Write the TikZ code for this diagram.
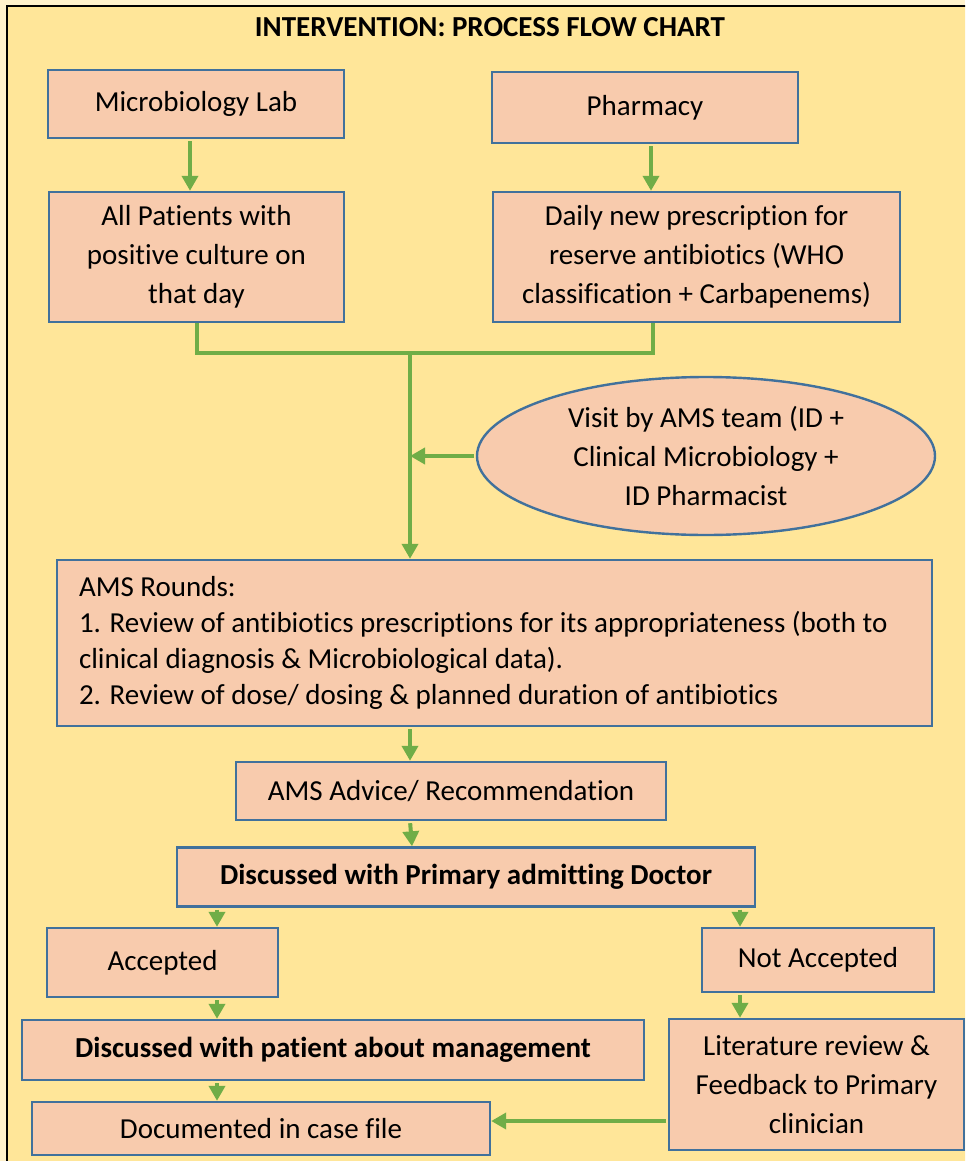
\documentclass[tikz,border=0pt]{standalone}
\usepackage{fontspec}
\setmainfont{Carlito}[Ligatures=NoCommon]
\usetikzlibrary{arrows.meta,positioning,calc,shapes.geometric}
\definecolor{AmsBlue}{HTML}{41719C}
\definecolor{AmsFill}{HTML}{F8CBAD}
\definecolor{AmsGreen}{HTML}{70AD47}
\definecolor{AmsYellow}{HTML}{FFE699}
\definecolor{AmsCream}{HTML}{FFF2CC}

\begin{document}
\begin{tikzpicture}[
  x=0.5pt,y=-0.5pt,
  font=\fontsize{14.5}{19.5}\selectfont,
  procbox/.style={draw=AmsBlue,line width=1.2pt,fill=AmsFill,inner sep=0pt,align=center},
  flow/.style={line width=2pt,draw=AmsGreen},
  arr/.style={flow,-{Triangle[length=7.5pt,width=8pt]},shorten <=1pt}
]
\useasboundingbox (0,0) rectangle (965,1161);
\fill[AmsCream] (0,0) rectangle (965,1161);
\clip (0,0) rectangle (965,1161);
\draw[line width=1.3pt,fill=AmsYellow] (7,6) rectangle (990,1190);

\node[font=\fontsize{14.5}{19.5}\selectfont\bfseries] (title) at (490,27) {INTERVENTION: PROCESS FLOW CHART};

% sources
\node[procbox,minimum width=148pt,minimum height=34pt] (micro) at (196,104) {Microbiology Lab};
\node[procbox,minimum width=153pt,minimum height=35.5pt] (pharm) at (645,107.5) {Pharmacy};
\node[procbox,minimum width=147.5pt,minimum height=65pt] (allpat) at (196.5,257)
  {All Patients with\\positive culture on\\that day};
\node[procbox,minimum width=203.5pt,minimum height=65pt] (daily) at (696.5,257)
  {Daily new prescription for\\reserve antibiotics (WHO\\classification + Carbapenems)};
\node[procbox,ellipse,minimum width=229pt,minimum height=79pt] (visit) at (706,456)
  {Visit by AMS team (ID +\\Clinical Microbiology +\\ID Pharmacist};

% rounds and advice
\node[procbox,align=flush left,text width=415.5pt,inner xsep=11pt,minimum height=83pt,
  font=\fontsize{14.5}{18}\selectfont] (rounds) at (494.5,643)
  {AMS Rounds:\\1. Review of antibiotics prescriptions for its appropriateness (both to\\
   clinical diagnosis \& Microbiological data).\\2. Review of dose/ dosing \& planned duration of antibiotics};
\node[procbox,minimum width=215pt,minimum height=29pt] (advice) at (451,791) {AMS Advice/ Recommendation};
\node[procbox,minimum width=289pt,minimum height=29.5pt,font=\fontsize{14.5}{19.5}\selectfont\bfseries]
  (primary) at (466,877) {Discussed with Primary admitting Doctor};

% outcomes
\node[procbox,minimum width=115.5pt,minimum height=34.5pt] (accepted) at (162.5,962.5) {Accepted};
\node[procbox,minimum width=116pt,minimum height=32pt] (notacc) at (818,960) {Not Accepted};
\node[procbox,minimum width=311pt,minimum height=30pt,font=\fontsize{14.5}{19.5}\selectfont\bfseries]
  (patient) at (333,1050) {Discussed with patient about management};
\node[procbox,minimum width=147.5pt,minimum height=65.5pt] (litrev) at (816.5,1084.5)
  {Literature review \&\\Feedback to Primary\\clinician};
\node[procbox,minimum width=229pt,minimum height=26.5pt] (docfile) at (261,1128.5) {Documented in case file};

% columns of the connectors
\coordinate (colMicro) at (190,0);
\coordinate (colPharm) at (651,0);
\coordinate (colDaily) at (653,0);
\coordinate (join) at (410,353);
\coordinate (colAcc) at (217,0);
\coordinate (colNot) at (740,0);
\coordinate (rowDoc) at (0,1121);

\draw[arr] (micro.south -| colMicro) -- (allpat.north -| colMicro);
\draw[arr] (pharm.south -| colPharm) -- (daily.north -| colPharm);
\draw[flow] (allpat.south) |- (join) -| (daily.south -| colDaily);
\draw[arr] (join) -- (rounds.north -| join);
\draw[arr] (visit.west) -- (visit.west -| join);
\draw[arr] (rounds.south -| join) -- (advice.north -| join);
\draw[arr] (advice.south -| join) -- ([xshift=1pt]primary.north -| join);
\draw[arr] (primary.south -| colAcc) -- (accepted.north -| colAcc);
\draw[arr] (primary.south -| colNot) -- (notacc.north -| colNot);
\draw[arr] (accepted.south -| colAcc) -- (patient.north -| colAcc);
\draw[arr] (patient.south -| colAcc) -- (docfile.north -| colAcc);
\draw[arr] (notacc.south -| colNot) -- (litrev.north -| colNot);
\draw[arr] (litrev.west |- rowDoc) -- (docfile.east |- rowDoc);
\end{tikzpicture}
\end{document}
